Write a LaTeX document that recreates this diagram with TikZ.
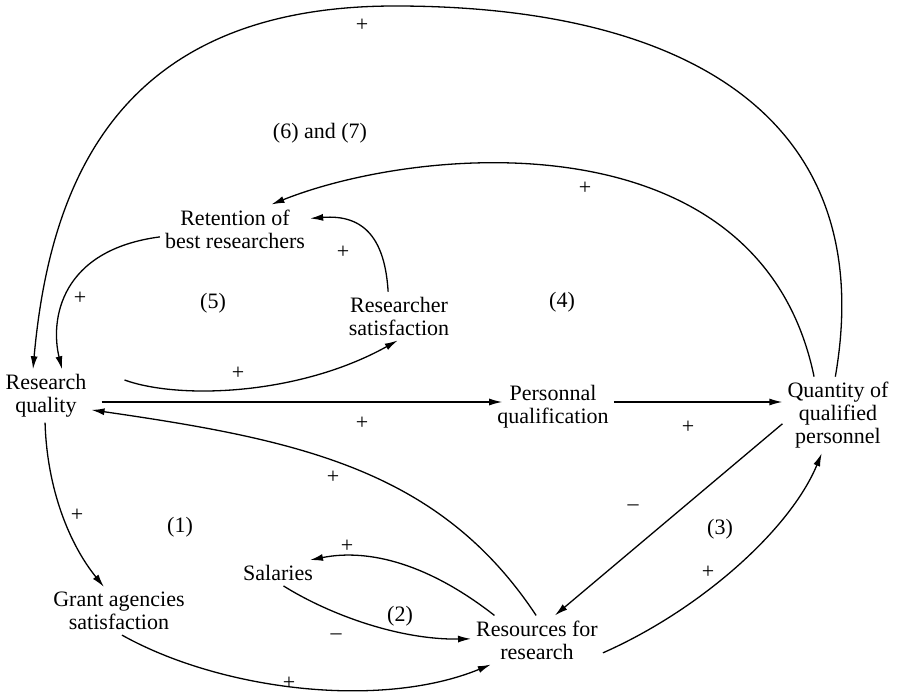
\documentclass[tikz,border=0pt]{standalone}
\usepackage{fontspec}
\setmainfont{Liberation Serif}
\usetikzlibrary{arrows.meta}

\begin{document}
\begin{tikzpicture}[x=1pt,y=-1pt]
\tikzstyle{every node}=[align=center,inner sep=5pt,font=\fontsize{22}{23}\selectfont]
\tikzstyle{link}=[-{Latex[length=13pt,width=7pt]},line width=1.3pt]
\useasboundingbox (0,0) rectangle (902,700);
\node (rq) at (46,396) {Research\\quality};
\node (pq) at (553,407) {Personnal\\qualification};
\node (qty) at (838,415) {Quantity of\\qualified\\personnel};
\node (ret) at (235,229) {Retention of\\best researchers};
\node (sat) at (399,316) {Researcher\\satisfaction};
\node (grant) at (119,611) {Grant agencies\\satisfaction};
\node (sal) at (278,573) {Salaries};
\node (res) at (537,640) {Resources for\\research};
% loop numbers
\node (l67) at (320,133) {(6) and (7)};
\node (l5) at (213,303) {(5)};
\node (l4) at (562,302) {(4)};
\node (l1) at (180,527) {(1)};
\node (l3) at (720,529) {(3)};
\node (l2) at (400,616) {(2)};
% signs
\node (p1) at (362,25) {+};
\node (p2) at (585,188) {+};
\node (p3) at (343,252) {+};
\node (p4) at (80,298) {+};
\node (p5) at (238,373) {+};
\node (p6) at (362,423) {+};
\node (p7) at (688,427) {+};
\node (p8) at (333,477) {+};
\node (p9) at (77,515) {+};
\node (p10) at (347,546) {+};
\node (p11) at (708,572) {+};
\node (p12) at (289,683) {+};
\node (m1) at (633,508) {\textendash};
\node (m2) at (336,637) {\textendash};
% connectors
\draw [link] (qty.94) .. controls (880,120) and (690,6) .. (395,6)
  .. controls (120,6) and (50,180) .. (rq.116);
\draw [link] (qty.122) .. controls (760,115) and (420,145) .. (ret.34);
\draw [link] (sat.114) .. controls (385,240) and (365,214) .. (ret.8);
\draw [link] (ret.186) .. controls (60,250) and (50,320) .. (rq.59);
\draw [link] ([xshift=33pt,yshift=16pt]rq.east) .. controls (180,400) and (300,395) .. (sat.267);
\draw [link] ([xshift=10pt,yshift=-6pt]rq.east) -- ([xshift=10pt,yshift=-6pt]rq.east -| pq.west);
\draw [link] ([yshift=5pt]pq.east) -- ([yshift=5pt]pq.east -| qty.west);
\draw [link] (res.92) .. controls (440,470) and (300,440) .. (rq.-17);
\draw [link] (qty.189) -- (res.54);
\draw [link] (res.-11) .. controls (700,610) and (790,530) .. (qty.247);
\draw [link] (res.150) .. controls (430,565) and (370,548) .. (sal.22);
\draw [link] (sal.293) .. controls (330,615) and (400,640) .. (res.179);
\draw [link] (rq.268) .. controls (47,490) and (70,545) .. (grant.122);
\draw [link] (grant.277) .. controls (220,690) and (380,710) .. (res.208);
\end{tikzpicture}
\end{document}
